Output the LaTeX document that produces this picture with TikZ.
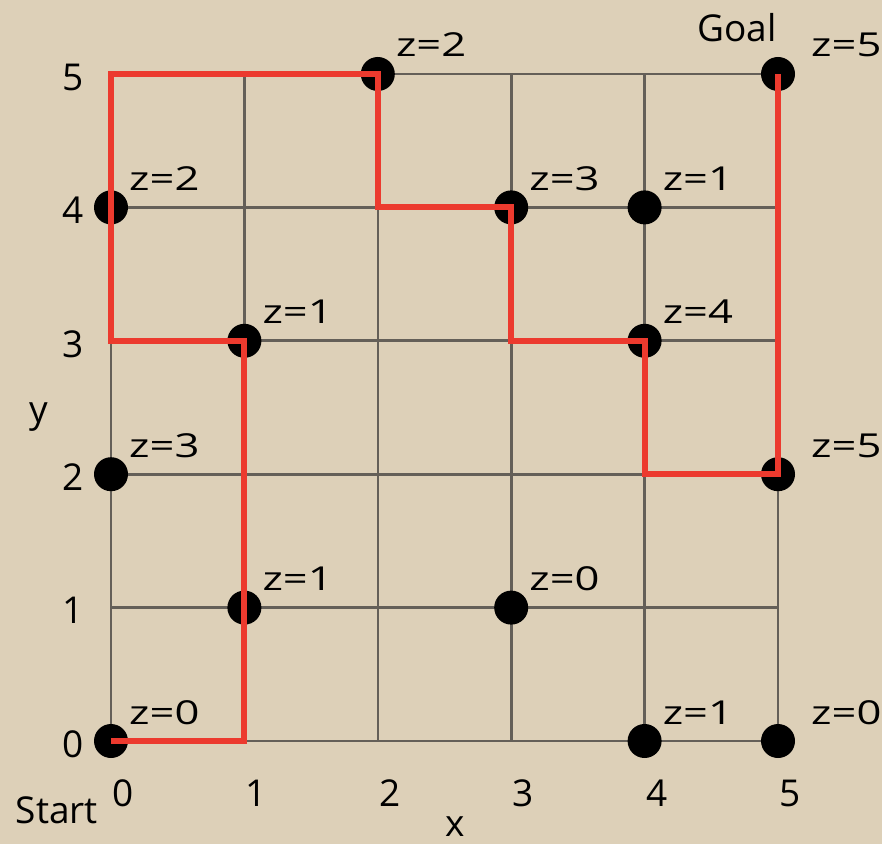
\documentclass[tikz,border=0pt]{standalone}
\usepackage{fontspec}
\usepackage{graphicx}
\setmainfont{Open Sans}
\definecolor{paper}{RGB}{221,208,184}
\definecolor{pathred}{RGB}{236,58,46}
\definecolor{gridgray}{RGB}{100,95,88}
\newcommand{\zwide}[1]{\scalebox{1.32}[1]{#1}}
\begin{document}
\begin{tikzpicture}[x=1pt,y=1pt,
  gridline/.style={draw=gridgray, line width=2.6pt},
  pathline/.style={draw=pathred, line width=6pt, line join=miter},
  dotnode/.style={circle, fill=black, minimum size=34pt, inner sep=0pt},
  zlabel/.style={font=\fontsize{33}{40}\selectfont, anchor=base west, inner sep=0pt},
  ticklabel/.style={font=\fontsize{37}{42}\selectfont, inner sep=0pt},
]
\fill[paper] (0,0) rectangle (882,844);
\useasboundingbox (0,0) rectangle (882,844);
\begin{scope}[shift={(111pt,103pt)}, x=133.4pt, y=133.4pt]
  \foreach \i in {0,...,5} \foreach \j in {0,...,5} \coordinate (g-\i-\j) at (\i,\j);
\end{scope}
% grid
\foreach \j in {0,...,5} \draw[gridline] (g-0-\j) -- (g-5-\j);
\foreach \i in {0,...,5} \draw[gridline] (g-\i-0) -- (g-\i-5);
% dots
\foreach \i/\j/\z in {0/0/0,1/1/1,0/2/3,1/3/1,0/4/2,2/5/2,3/4/3,4/4/1,4/3/4,3/1/0,4/0/1} {
  \node[dotnode] (d-\i-\j) at (g-\i-\j) {};
  \node[zlabel] (z-\i-\j) at ([shift={(18pt,17pt)}]d-\i-\j.center) {\zwide{z=\z}};
}
\foreach \j/\z in {5/5,2/5,0/0} {
  \node[dotnode] (d-5-\j) at (g-5-\j) {};
  \node[zlabel] (z-5-\j) at ([shift={(33pt,17pt)}]d-5-\j.center) {\zwide{z=\z}};
}
% path
\draw[pathline] (g-0-0) -- (g-1-0) -- (g-1-3) -- (g-0-3) -- (g-0-5) -- (g-2-5) -- (g-2-4) -- (g-3-4) -- (g-3-3) -- (g-4-3) -- (g-4-2) -- (g-5-2) -- (g-5-5);
% ticks
\foreach \k in {0,...,5} {
  \node[ticklabel] (yt-\k) at ([shift={(-38pt,-3pt)}]g-0-\k) {\k};
  \node[ticklabel] (xt-\k) at ([shift={(12pt,-52pt)}]g-\k-0) {\k};
}
\node[ticklabel] (ylab) at (39,427) {y};
\node[ticklabel] (xlab) at (455,17) {x};
\node[ticklabel] (start) at (57,34) {Start};
\node[ticklabel] (goal) at (737,816) {Goal};
\end{tikzpicture}
\end{document}
